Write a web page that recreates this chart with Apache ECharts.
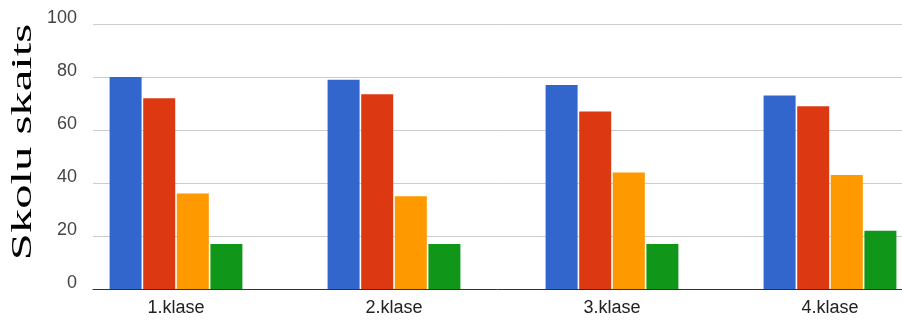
<!DOCTYPE html>
<html>
<head>
<meta charset="utf-8">
<title>Skolu skaits</title>
<script src="https://cdn.jsdelivr.net/npm/echarts@6/dist/echarts.min.js"></script>
<style>
  html, body { margin: 0; padding: 0; background: #fff; }
  #chart { width: 902px; height: 322px; }
</style>
</head>
<body>
<div id="chart"></div>
<script>
// kategorijas un vērtības (nolasītas no attēla)
const categories = ['1.klase', '2.klase', '3.klase', '4.klase']
const seriesBlue = [80, 79, 77, 73]
const seriesRed = [72, 73.5, 67, 69]
const seriesOrange = [36, 35, 44, 43]
const seriesGreen = [17, 17, 17, 22]
const yTicks = [0, 20, 40, 60, 80, 100]

const colors = ['#3366cc', '#dc3912', '#ff9900', '#109618']

const chart = echarts.init(document.getElementById('chart'))

function bar(name, data, color) {
  return {
    name: name,
    type: 'bar',
    xAxisIndex: 1,
    yAxisIndex: 1,
    barWidth: 32,
    barGap: '5%',
    itemStyle: { color: color },
    data: data
  }
}

chart.setOption({
  animation: false,
  grid: [
    // gridlines + axis line
    { left: 93, right: 0, top: 24, bottom: 33, outerBoundsMode: 'none' },
    // bars (wider band so groups sit like in the picture)
    { left: 67, width: 872, top: 24, bottom: 33, outerBoundsMode: 'none' }
  ],
  xAxis: [
    {
      gridIndex: 0,
      type: 'category',
      data: categories,
      axisLine: { lineStyle: { color: '#333', width: 1 } },
      axisTick: { show: false },
      axisLabel: { show: false }
    },
    {
      gridIndex: 1,
      type: 'category',
      data: categories,
      axisLine: { show: false },
      axisTick: { show: false },
      axisLabel: {
        color: '#222',
        fontFamily: 'Liberation Sans, Arial',
        fontSize: 18,
        margin: 10
      }
    }
  ],
  yAxis: [
    {
      gridIndex: 0,
      type: 'value',
      min: yTicks[0],
      max: yTicks[yTicks.length - 1],
      interval: 20,
      axisLine: { show: false },
      axisTick: { show: false },
      axisLabel: {
        color: '#444',
        fontFamily: 'Liberation Sans, Arial',
        fontSize: 18,
        margin: 16,
        verticalAlign: 'bottom',
        lineHeight: 12
      },
      splitLine: { lineStyle: { color: '#cccccc', width: 1 } }
    },
    {
      gridIndex: 1,
      type: 'value',
      min: yTicks[0],
      max: yTicks[yTicks.length - 1],
      interval: 20,
      show: false,
      splitLine: { show: false }
    }
  ],
  graphic: [
    {
      type: 'text',
      x: 23,
      y: 142,
      rotation: Math.PI / 2,
      scaleX: 1.62,
      style: {
        text: 'Skolu skaits',
        font: '30px "Liberation Serif", "Times New Roman", serif',
        fill: '#000',
        align: 'center',
        verticalAlign: 'middle'
      }
    }
  ],
  series: [
    bar('1', seriesBlue, colors[0]),
    bar('2', seriesRed, colors[1]),
    bar('3', seriesOrange, colors[2]),
    bar('4', seriesGreen, colors[3])
  ]
})
</script>
</body>
</html>
